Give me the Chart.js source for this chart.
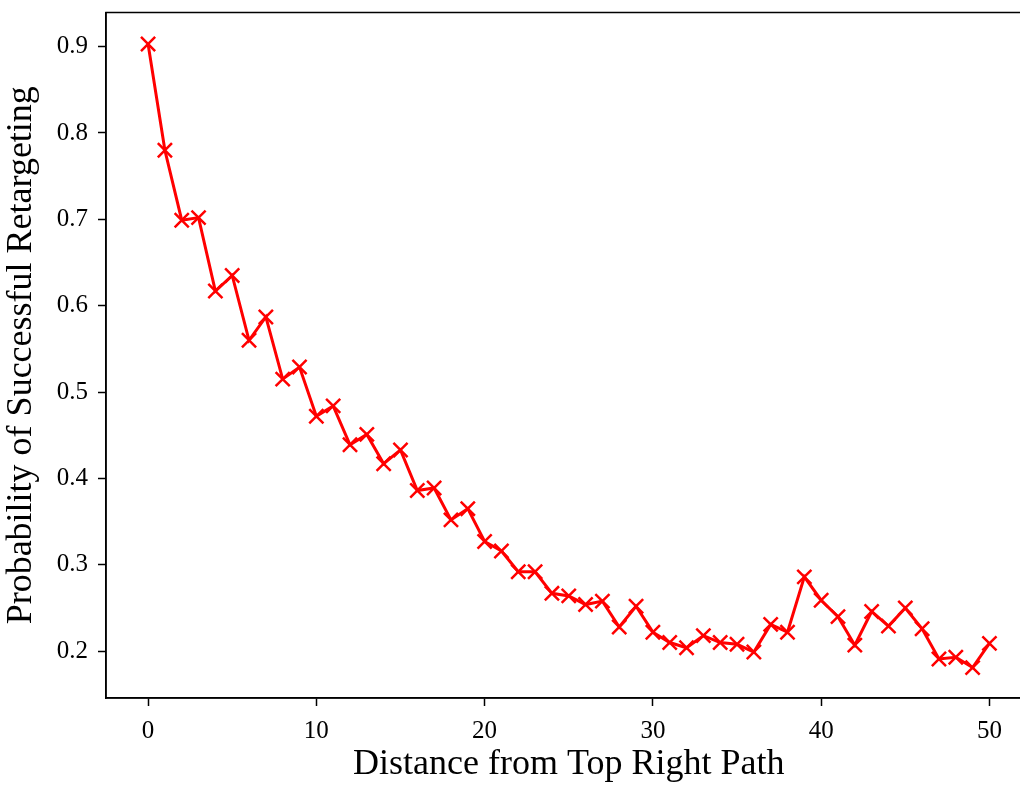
<!DOCTYPE html>
<html>
<head>
    <meta charset="UTF-8">
    <title>Retargeting Probability</title>
    <script src="https://cdn.jsdelivr.net/npm/chart.js@4/dist/chart.umd.min.js"></script>
    <style type="text/css">
        body { margin: 0; overflow: hidden; background: #fff; }
    </style>
</head>
<body>
<canvas id="retargetChart" width="1044" height="786"></canvas>

<script>
    // values
    const distances = [0, 1, 2, 3, 4, 5, 6, 7, 8, 9, 10, 11, 12, 13, 14, 15, 16, 17, 18, 19, 20,
        21, 22, 23, 24, 25, 26, 27, 28, 29, 30, 31, 32, 33, 34, 35, 36, 37, 38, 39, 40,
        41, 42, 43, 44, 45, 46, 47, 48, 49, 50];
    const probabilities = [0.903, 0.780, 0.699, 0.702, 0.617, 0.635, 0.560, 0.587, 0.515, 0.529, 0.472,
        0.484, 0.439, 0.451, 0.417, 0.433, 0.386, 0.389, 0.352, 0.365, 0.327,
        0.316, 0.292, 0.292, 0.267, 0.264, 0.254, 0.258, 0.228, 0.252, 0.222,
        0.210, 0.204, 0.218, 0.210, 0.208, 0.199, 0.231, 0.222, 0.286, 0.259,
        0.240, 0.207, 0.246, 0.229, 0.250, 0.226, 0.191, 0.193, 0.181, 0.209];
    const xTicks = [0, 10, 20, 30, 40, 50];
    const yTicks = [0.2, 0.3, 0.4, 0.5, 0.6, 0.7, 0.8, 0.9];

    const serif = "'Liberation Serif', 'Times New Roman', serif";

    // matplotlib-style frame on all four sides
    const frame = {
        id: 'frame',
        afterDraw(chart) {
            const a = chart.chartArea;
            const ctx = chart.ctx;
            ctx.save();
            ctx.strokeStyle = '#000';
            ctx.lineWidth = 1.5;
            ctx.strokeRect(a.left, a.top, a.right - a.left, a.bottom - a.top);
            ctx.restore();
        }
    };

    new Chart(document.getElementById('retargetChart').getContext('2d'), {
        type: 'line',
        data: {
            datasets: [{
                data: distances.map((d, i) => ({ x: d, y: probabilities[i] })),
                borderColor: '#ff0000',
                backgroundColor: '#ff0000',
                borderWidth: 3,
                pointStyle: 'crossRot',
                pointRadius: 10,
                pointBorderWidth: 2.5,
                pointBorderColor: '#ff0000',
                tension: 0,
                fill: false
            }]
        },
        options: {
            responsive: false,
            animation: false,
            devicePixelRatio: 1,
            layout: { padding: { top: 9, right: 3, bottom: 0, left: 0 } },
            plugins: {
                legend: { display: false },
                tooltip: { enabled: false }
            },
            scales: {
                x: {
                    type: 'linear',
                    min: -2.5,
                    max: 52.5,
                    afterBuildTicks: s => { s.ticks = xTicks.map(v => ({ value: v })); },
                    afterFit: s => { s.height = 88; s.paddingLeft = 0; s.paddingRight = 0; },
                    grid: { drawOnChartArea: false, drawTicks: true, tickLength: 8, tickColor: '#000', tickWidth: 1.5 },
                    border: { color: '#000', width: 1.5 },
                    ticks: { color: '#000', padding: 10, maxRotation: 0, font: { family: serif, size: 25 } },
                    title: { display: true, text: 'Distance from Top Right Path', color: '#000',
                        font: { family: serif, size: 36 }, padding: { top: 0, bottom: 0 } }
                },
                y: {
                    min: 0.1458,
                    max: 0.9395,
                    afterBuildTicks: s => { s.ticks = yTicks.map(v => ({ value: v })); },
                    afterFit: s => { s.width = 106; s.paddingTop = 0; s.paddingBottom = 0; },
                    grid: { drawOnChartArea: false, drawTicks: true, tickLength: 8, tickColor: '#000', tickWidth: 1.5 },
                    border: { color: '#000', width: 1.5 },
                    ticks: { color: '#000', padding: 10, callback: v => v.toFixed(1), font: { family: serif, size: 25 } },
                    title: { display: true, text: 'Probability of Successful Retargeting', color: '#000',
                        font: { family: serif, size: 36 }, padding: { top: 0, bottom: 8 } }
                }
            }
        },
        plugins: [frame]
    });
</script>
</body>
</html>
